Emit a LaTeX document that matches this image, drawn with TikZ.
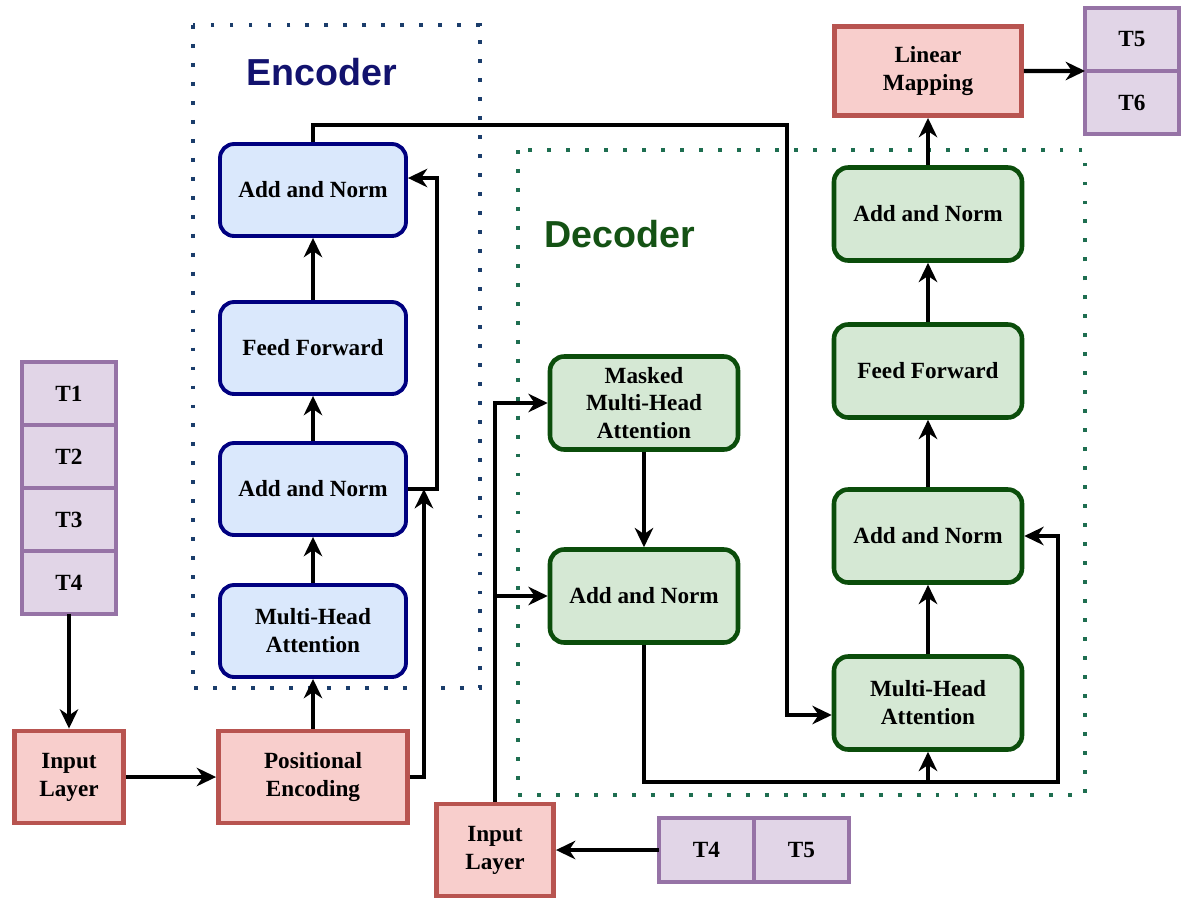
\documentclass[tikz,border=0pt]{standalone}
\usepackage{fontspec}
\setmainfont{Liberation Serif}
\newfontfamily\titlefont{Liberation Sans}
\usetikzlibrary{arrows.meta,positioning,calc}
\definecolor{encfill}{HTML}{DAE8FC}
\definecolor{encline}{HTML}{000080}
\definecolor{decfill}{HTML}{D5E8D4}
\definecolor{decline}{HTML}{0B4D0B}
\definecolor{iofill}{HTML}{F8CECC}
\definecolor{ioline}{HTML}{B85450}
\definecolor{tokfill}{HTML}{E1D5E7}
\definecolor{tokline}{HTML}{9673A6}
\definecolor{encdots}{HTML}{1B3D6B}
\definecolor{decdots}{HTML}{1E6E50}
\definecolor{enctext}{HTML}{12126E}
\definecolor{dectext}{HTML}{145214}
\newcommand{\blockfont}{\fontsize{13.2}{15.9}\selectfont\bfseries}
\tikzset{
	encbox/.style={rectangle, rounded corners=8pt, draw=encline, fill=encfill, line width=2.2pt,
		minimum width=3.72cm, minimum height=1.84cm, align=center, font=\blockfont},
	decbox/.style={rectangle, rounded corners=8pt, draw=decline, fill=decfill, line width=2.6pt,
		minimum width=3.76cm, minimum height=1.86cm, align=center, font=\blockfont},
	iobox/.style={rectangle, draw=ioline, fill=iofill, line width=2.8pt,
		minimum height=1.84cm, align=center, font=\blockfont},
	tok/.style={rectangle, draw=tokline, fill=tokfill, line width=2.2pt, outer sep=0pt,
		minimum width=1.88cm, minimum height=1.26cm, font=\blockfont},
	frame/.style={line width=2.2pt, dash pattern=on 2.2pt off 8.6pt},
	title/.style={font=\titlefont\fontsize{21.4}{24}\selectfont\bfseries},
	flowarr/.style={-{Stealth[length=11pt, width=10.5pt, inset=3.5pt]}, line width=2.3pt}
}
\begin{document}
\begin{tikzpicture}[x=0.02cm, y=-0.02cm]
	\useasboundingbox (0,0) rectangle (1183,900);
	% frames
	\draw[frame, encdots] (193,25) rectangle (480,688);
	\draw[frame, decdots] (518,150) rectangle (1085,795);
	\node[title, text=enctext] (enct) at (322,72) {Encoder};
	\node[title, text=dectext] (dect) at (620,234) {Decoder};

	% encoder side
	\node[tok] (t1) at (69,393.5) {T1};
	\node[tok, below=0pt of t1] (t2) {T2};
	\node[tok, below=0pt of t2] (t3) {T3};
	\node[tok, below=0pt of t3] (t4) {T4};
	\node[iobox, minimum width=2.18cm] (inl) at (69,777) {Input\\Layer};
	\node[iobox, minimum width=3.78cm] (pe) at (313,777) {Positional\\Encoding};
	\node[encbox] (emha) at (313,631) {Multi-Head\\Attention};
	\node[encbox] (ean1) at (313,489) {Add and Norm};
	\node[encbox] (eff) at (313,348) {Feed Forward};
	\node[encbox] (ean2) at (313,190) {Add and Norm};

	\draw[flowarr] (t4.south) -- (inl.north);
	\draw[flowarr] (inl) -- (pe);
	\draw[flowarr] (pe) -- (emha);
	\draw[flowarr] (emha) -- (ean1);
	\draw[flowarr] (ean1) -- (eff);
	\draw[flowarr] (eff) -- (ean2);
	\draw[flowarr] (pe.east) -| ($(ean1.east)+(16,0)$);
	\draw[flowarr] (ean1.east) -- ++(29,0) |- ($(ean2.east)+(0,-12)$);

	% decoder side
	\node[iobox, minimum width=2.34cm] (dinl) at (495,850) {Input\\Layer};
	\node[tok, minimum width=1.9cm, minimum height=1.28cm] (s4) at (706.5,850) {T4};
	\node[tok, minimum width=1.9cm, minimum height=1.28cm, right=0pt of s4] (s5) {T5};
	\node[decbox] (mmha) at (644,403) {Masked\\Multi-Head\\Attention};
	\node[decbox] (dan1) at (644,596) {Add and Norm};
	\node[decbox] (dmha) at (928,703) {Multi-Head\\Attention};
	\node[decbox] (dan2) at (928,536) {Add and Norm};
	\node[decbox] (dff) at (928,371) {Feed Forward};
	\node[decbox] (dan3) at (928,214) {Add and Norm};
	\node[iobox, minimum width=3.74cm, minimum height=1.78cm] (lin) at (928,71) {Linear\\Mapping};
	\node[tok] (o5) at (1132,39.5) {T5};
	\node[tok, below=0pt of o5] (o6) {T6};
	\coordinate (dbus) at ($(dmha.south)+(0,30)$);

	\draw[flowarr] (s4.west) -- (dinl.east);
	\draw[flowarr] (dinl.north) |- (mmha.west);
	\draw[flowarr] (dinl.north |- dan1.west) -- (dan1.west);
	\draw[flowarr] (mmha) -- (dan1);
	\draw[flowarr] (dan1.south) |- (dbus) -| ($(dan2.east)+(34,0)$) -- (dan2.east);
	\draw[flowarr] (dbus) -- (dmha.south);
	\draw[flowarr] (ean2.north) -- ++(0,-17) -| ($(dmha.west)+(-45,12)$) -- ($(dmha.west)+(0,12)$);
	\draw[flowarr] (dmha) -- (dan2);
	\draw[flowarr] (dan2) -- (dff);
	\draw[flowarr] (dff) -- (dan3);
	\draw[flowarr] (dan3) -- (lin);
	\draw[flowarr] (lin.east) -- (o5.south west);
\end{tikzpicture}
\end{document}
